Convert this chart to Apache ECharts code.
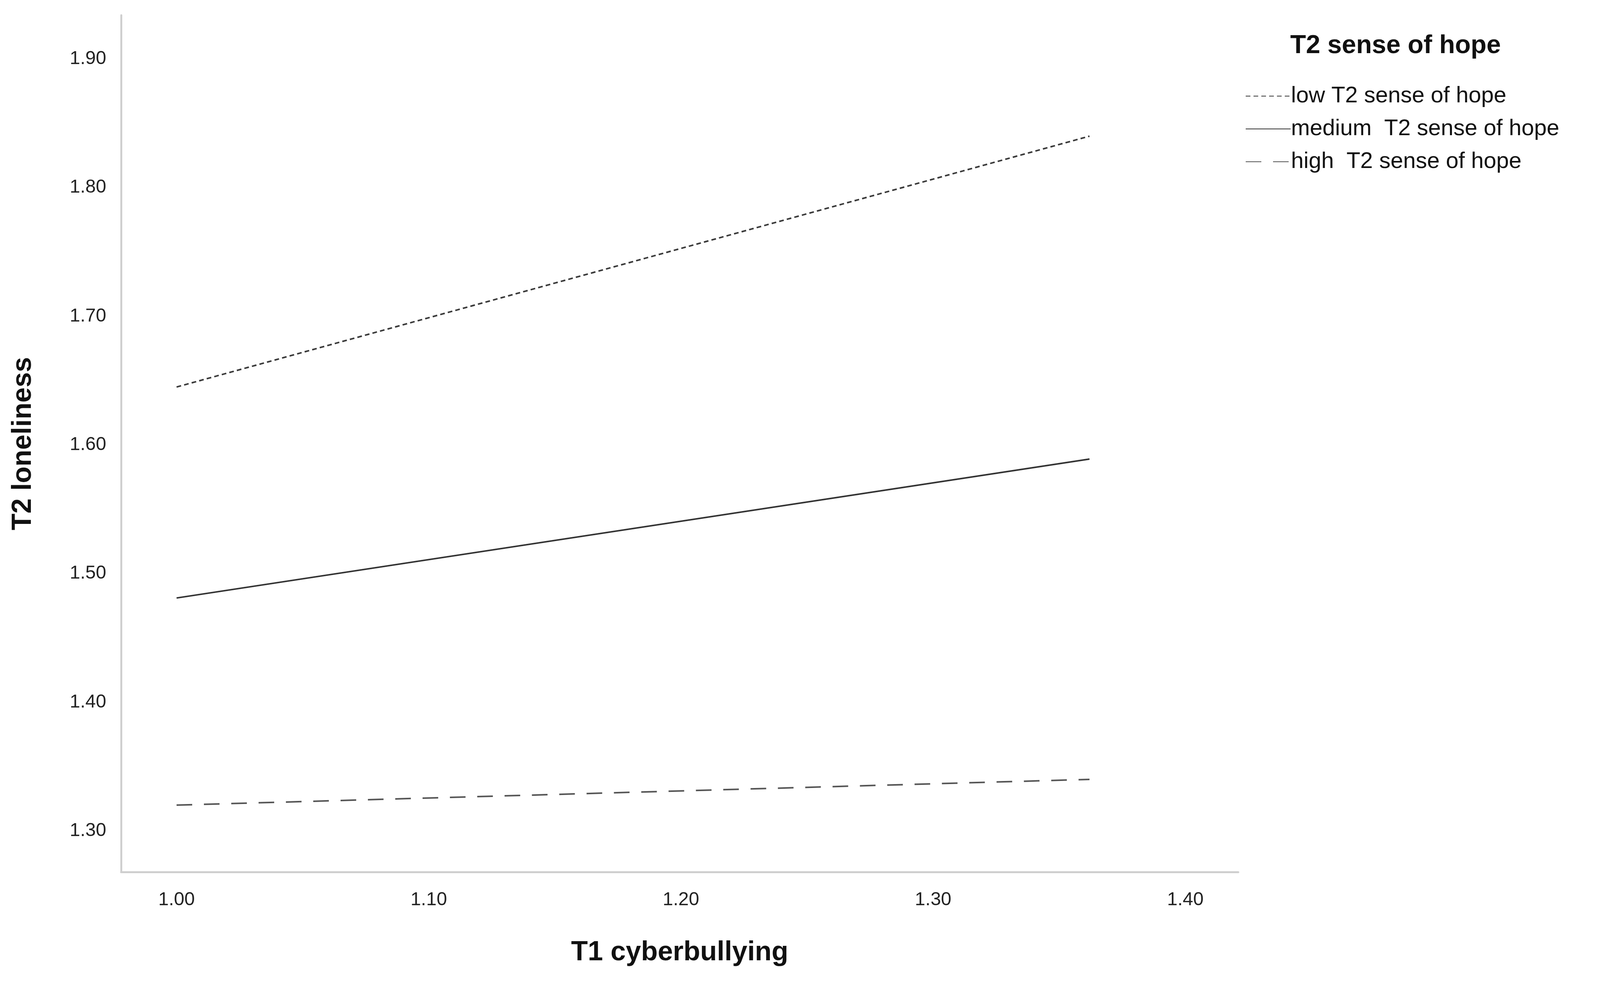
<!DOCTYPE html>
<html><head><meta charset="utf-8">
<script src="https://cdn.jsdelivr.net/npm/echarts@6/dist/echarts.min.js"></script>
<style>html,body{margin:0;padding:0;background:#fff}#c{width:4117px;height:2511px}</style>
</head><body><div id="c"></div>
<script>
const xValues = [1.00, 1.362];
const lowHope = [1.645, 1.840];
const mediumHope = [1.481, 1.589];
const highHope = [1.320, 1.340];
const xTicks = [1.00, 1.10, 1.20, 1.30, 1.40];
const yTicks = [1.30, 1.40, 1.50, 1.60, 1.70, 1.80, 1.90];
const seriesNames = ['low T2 sense of hope', 'medium  T2 sense of hope', 'high  T2 sense of hope'];

const chart = echarts.init(document.getElementById('c'));
const pair = arr => xValues.map((x, i) => [x, arr[i]]);
const mk = (name, arr, color, type) => ({
  name, type: 'line', data: pair(arr), symbol: 'none', silent: true,
  lineStyle: { color, width: 4, type }, itemStyle: { color }
});
chart.setOption({
  animation: false,
  backgroundColor: '#fff',
  title: { text: 'T2 sense of hope', left: 3298, top: 80,
    textStyle: { fontFamily: 'Liberation Sans, Arial', fontWeight: 'bold', fontSize: 66, color: '#111' } },
  legend: {
    orient: 'vertical', left: 3183, top: 212, itemWidth: 115, itemHeight: 20, itemGap: 26,
    itemStyle: { opacity: 0 },
    textStyle: { fontFamily: 'Liberation Sans Narrow, Liberation Sans, Arial', fontSize: 58, color: '#111', padding: [0,0,0,-4] },
    data: seriesNames
  },
  grid: { left: 310, right: 947, top: 39, bottom: 279, containLabel: false },
  xAxis: {
    type: 'value', min: 0.978, max: 1.421,
    name: 'T1 cyberbullying', nameLocation: 'middle', nameGap: 172,
    nameTextStyle: { fontFamily: 'Liberation Sans, Arial', fontWeight: 'bold', fontSize: 70, color: '#111' },
    axisLine: { show: true, lineStyle: { color: '#cfcfcf', width: 5 } },
    axisTick: { show: false },
    splitLine: { show: false },
    axisLabel: { customValues: xTicks, formatter: v => v.toFixed(2), margin: 48,
      fontFamily: 'Liberation Sans, Arial', fontSize: 48, color: '#222' }
  },
  yAxis: {
    type: 'value', min: 1.268, max: 1.934,
    name: 'T2 loneliness', nameLocation: 'middle', nameGap: 215, nameRotate: 90,
    nameTextStyle: { fontFamily: 'Liberation Sans, Arial', fontWeight: 'bold', fontSize: 70, color: '#111' },
    axisLine: { show: true, lineStyle: { color: '#cfcfcf', width: 5 } },
    axisTick: { show: false },
    splitLine: { show: false },
    axisLabel: { customValues: yTicks, formatter: v => v.toFixed(2), margin: 38,
      fontFamily: 'Liberation Sans, Arial', fontSize: 48, color: '#222' }
  },
  series: [
    mk(seriesNames[0], lowHope, '#3a3a3a', [12, 8]),
    mk(seriesNames[1], mediumHope, '#333333', 'solid'),
    mk(seriesNames[2], highHope, '#555555', [40, 30])
  ]
});
</script></body></html>
